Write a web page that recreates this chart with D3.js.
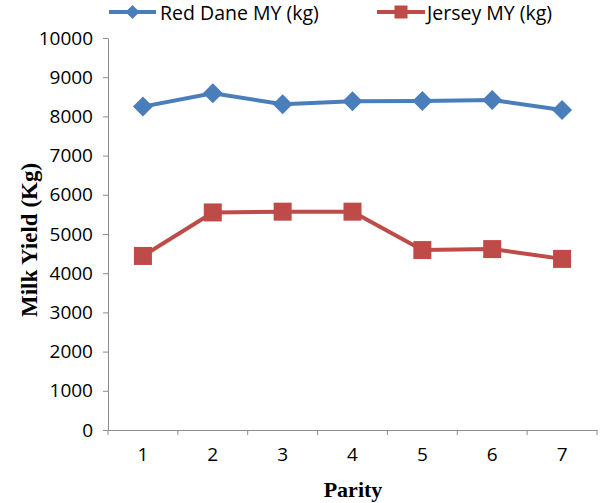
<!DOCTYPE html>
<html>
<head>
<meta charset="utf-8">
<script src="https://cdn.jsdelivr.net/npm/d3@7"></script>
<style>
  html, body { margin: 0; padding: 0; background: #fff; }
  svg { display: block; }
</style>
</head>
<body>
<svg id="chart" width="600" height="503"></svg>
<script>
const parity = ["1", "2", "3", "4", "5", "6", "7"];
const redDane = [8250, 8590, 8310, 8385, 8390, 8420, 8165];
const jersey = [4440, 5550, 5570, 5570, 4590, 4615, 4365];
const yTicks = [0, 1000, 2000, 3000, 4000, 5000, 6000, 7000, 8000, 9000, 10000];
const seriesNames = ["Red Dane MY (kg)", "Jersey MY (kg)"];
const seriesColors = ["#4A7EBB", "#BE4B48"];

const svg = d3.select("#chart");
const plotLeft = 108, plotRight = 597, plotTop = 38, plotBottom = 430;

const x = d3.scaleBand().domain(parity).range([plotLeft, plotRight]);
const y = d3.scaleLinear().domain([0, 10000]).range([plotBottom, plotTop]);

const axisColor = "#8C8C8C";
const tickFont = "'Open Sans', 'Liberation Sans', sans-serif";

// Y axis
const yAxis = svg.append("g").attr("transform", `translate(${plotLeft},0)`)
  .call(d3.axisLeft(y).tickValues(yTicks).tickSize(5).tickSizeOuter(0).tickPadding(10).tickFormat(d3.format("d")));
yAxis.select(".domain").attr("stroke", axisColor);
yAxis.selectAll(".tick line").attr("stroke", axisColor);
yAxis.selectAll(".tick text").attr("font-family", tickFont).attr("font-size", 19).attr("fill", "#000");

// X axis
const xAxis = svg.append("g").attr("transform", `translate(0,${plotBottom})`)
  .call(d3.axisBottom(x).tickSize(0).tickSizeOuter(0).tickPadding(18));
xAxis.select(".domain").attr("stroke", axisColor);
xAxis.selectAll(".tick text").attr("font-family", tickFont).attr("font-size", 19).attr("fill", "#000");
const bounds = parity.map(d => x(d)).concat([x(parity[parity.length - 1]) + x.bandwidth()]);
xAxis.selectAll(".bound").data(bounds).enter().append("line")
  .attr("class", "bound")
  .attr("x1", d => d).attr("x2", d => d)
  .attr("y1", 0).attr("y2", 5)
  .attr("stroke", axisColor);

const cx = d => x(d) + x.bandwidth() / 2;
const line = d3.line().x((d, i) => cx(parity[i])).y(d => y(d));

// Red Dane series
svg.append("path").datum(redDane).attr("d", line)
  .attr("fill", "none").attr("stroke", seriesColors[0]).attr("stroke-width", 4).attr("stroke-linejoin", "round");
svg.selectAll(".diamond").data(redDane).enter().append("path")
  .attr("class", "diamond")
  .attr("transform", (d, i) => `translate(${cx(parity[i])},${y(d)})`)
  .attr("d", "M0,-10L10,0L0,10L-10,0Z")
  .attr("fill", seriesColors[0]);

// Jersey series
svg.append("path").datum(jersey).attr("d", line)
  .attr("fill", "none").attr("stroke", seriesColors[1]).attr("stroke-width", 4).attr("stroke-linejoin", "round");
svg.selectAll(".square").data(jersey).enter().append("rect")
  .attr("class", "square")
  .attr("x", (d, i) => cx(parity[i]) - 9)
  .attr("y", d => y(d) - 9)
  .attr("width", 18).attr("height", 18)
  .attr("fill", seriesColors[1]);

// Legend
const legend = svg.append("g");
const leg = [
  { x1: 109, x2: 156, text: 160, shape: "diamond" },
  { x1: 377, x2: 425, text: 427, shape: "square" }
];
leg.forEach((l, i) => {
  const g = legend.append("g");
  const ly = 12;
  g.append("line").attr("x1", l.x1).attr("x2", l.x2).attr("y1", ly).attr("y2", ly)
    .attr("stroke", seriesColors[i]).attr("stroke-width", 4);
  const mx = (l.x1 + l.x2) / 2;
  if (l.shape === "diamond") {
    g.append("path").attr("d", `M${mx},${ly - 7}L${mx + 7},${ly}L${mx},${ly + 7}L${mx - 7},${ly}Z`)
      .attr("fill", seriesColors[i]);
  } else {
    g.append("rect").attr("x", mx - 6.5).attr("y", ly - 6.5).attr("width", 13).attr("height", 13)
      .attr("fill", seriesColors[i]);
  }
  g.append("text").attr("x", l.text).attr("y", ly + 8)
    .attr("font-family", tickFont).attr("font-size", 19.5).attr("fill", "#000")
    .text(seriesNames[i]);
});

// Axis titles
svg.append("text")
  .attr("transform", `translate(37,240) rotate(-90)`)
  .attr("text-anchor", "middle")
  .attr("font-family", "'Liberation Serif', 'Times New Roman', serif")
  .attr("font-weight", "bold").attr("font-size", 23)
  .text("Milk Yield (Kg)");
svg.append("text")
  .attr("x", 353).attr("y", 497)
  .attr("text-anchor", "middle")
  .attr("font-family", "'Liberation Serif', 'Times New Roman', serif")
  .attr("font-weight", "bold").attr("font-size", 22)
  .text("Parity");
</script>
</body>
</html>
